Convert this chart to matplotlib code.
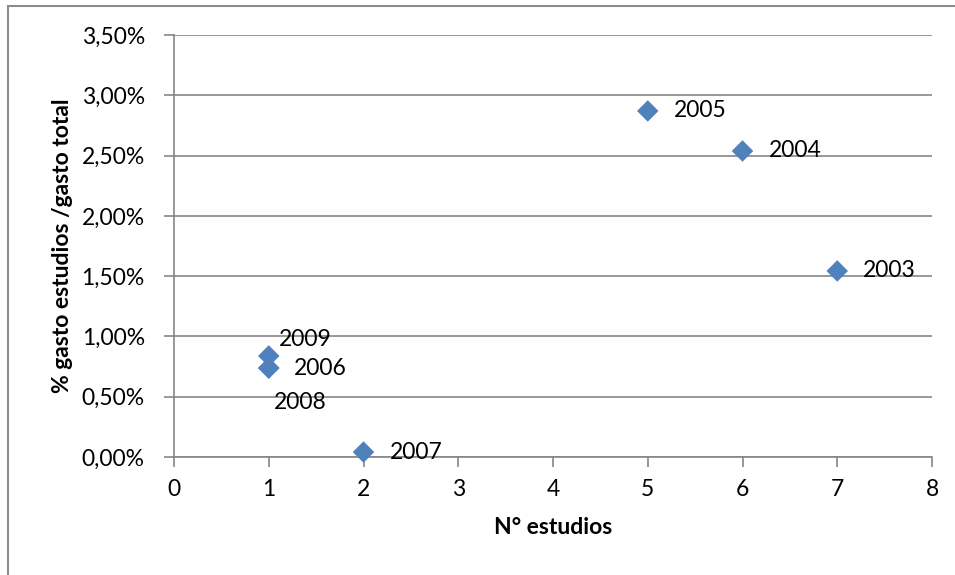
import matplotlib
matplotlib.use("Agg")
import matplotlib.pyplot as plt
from matplotlib.ticker import FuncFormatter, MultipleLocator
from matplotlib.patches import Rectangle

# Number of studies vs. share of study spending over total spending, by year
years = ["2003", "2004", "2005", "2006", "2007", "2008", "2009"]
n_estudios = [7, 6, 5, 1, 2, 1, 1]
pct_gasto = [0.01543, 0.02538, 0.02870, 0.00738, 0.00041, 0.00738, 0.00838]

# label offsets (pixels) relative to each point
label_offsets = {
    "2003": (26, 0), "2004": (26, 0), "2005": (26, 0), "2006": (25, 0),
    "2007": (26, 0), "2008": (5, -34), "2009": (10, 16),
}

plt.rcParams["font.family"] = ["Lato", "DejaVu Sans"]
FS = 16.5

W, H = 955, 575
fig = plt.figure(figsize=(W / 100, H / 100), dpi=100)
fig.patch.set_facecolor("white")

# outer chart border
fig.patches.append(Rectangle((8 / W, -0.1), 1.2, 1 - 6 / H + 0.1,
                             transform=fig.transFigure, fill=False,
                             edgecolor="#8c8c8c", linewidth=1.5))

ax = fig.add_axes([174 / W, 1 - 457 / H, (932 - 174) / W, (457 - 35) / H])
ax.set_xlim(0, 8)
ax.set_ylim(0, 0.035)
ax.xaxis.set_major_locator(MultipleLocator(1))
ax.yaxis.set_major_locator(MultipleLocator(0.005))
ax.yaxis.set_major_formatter(FuncFormatter(lambda v, p: f"{v * 100:.2f}%".replace(".", ",")))

grid_col = "#868686"
ax.grid(axis="y", color=grid_col, linewidth=1.2)
ax.set_axisbelow(True)
for side in ["top", "right"]:
    ax.spines[side].set_visible(False)
for side in ["left", "bottom"]:
    ax.spines[side].set_color(grid_col)
    ax.spines[side].set_linewidth(1.2)
ax.tick_params(axis="both", colors=grid_col, labelcolor="black", labelsize=FS,
               length=7, width=1.2, direction="out")
ax.tick_params(axis="x", pad=9)
ax.tick_params(axis="y", pad=14)

ax.scatter(n_estudios, pct_gasto, marker="D", s=120, color="#4F81BD",
           edgecolors="none", zorder=3, clip_on=False)

for yr, x, y in zip(years, n_estudios, pct_gasto):
    dx, dy = label_offsets[yr]
    ax.annotate(yr, (x, y), xytext=(dx * 0.72, dy * 0.72), textcoords="offset points",
                ha="left", va="center", fontsize=FS, color="black", zorder=4)

ax.set_xlabel("N° estudios", fontsize=FS, fontweight="bold", labelpad=12)
ax.set_ylabel("% gasto estudios /gasto total", fontsize=FS, fontweight="bold", labelpad=6)

fig.savefig("out.png", dpi=100, facecolor="white")
